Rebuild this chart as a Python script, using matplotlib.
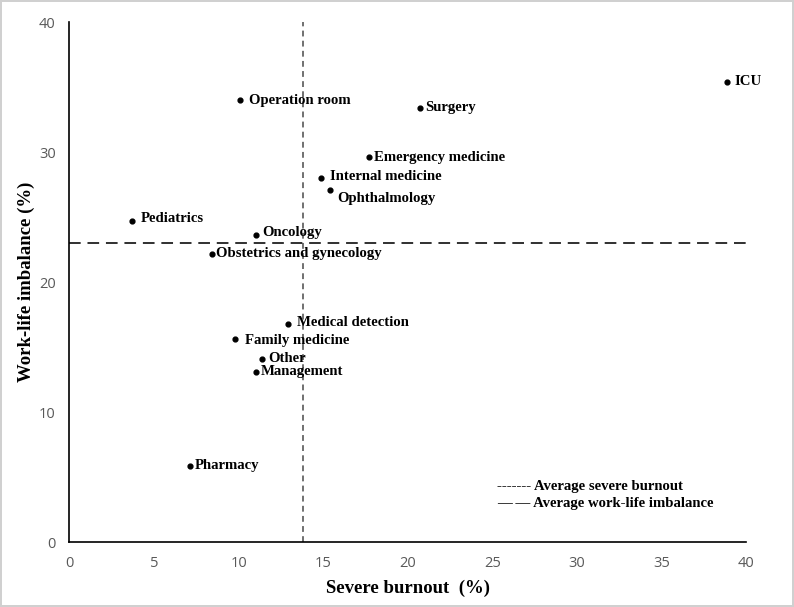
import matplotlib.pyplot as plt

# department, severe burnout (%), work-life imbalance (%)
departments = ["ICU", "Operation room", "Surgery", "Emergency medicine", "Internal medicine",
               "Ophthalmology", "Pediatrics", "Oncology", "Obstetrics and gynecology",
               "Medical detection", "Family medicine", "Other", "Management", "Pharmacy"]
burnout = [38.9, 10.1, 20.7, 17.7, 14.9, 15.4, 3.7, 11.0, 8.4, 12.9, 9.8, 11.4, 11.0, 7.1]
imbalance = [35.4, 34.0, 33.4, 29.6, 28.0, 27.1, 24.7, 23.6, 22.2, 16.8, 15.6, 14.1, 13.1, 5.9]
avg_burnout = 13.8
avg_imbalance = 23.0

# label offsets in points (dx, dy)
offsets = [(5, 0), (6, 0), (4, 0), (4, 0), (6, 1), (5, -6), (6, 2), (5, 2), (3, 0),
           (7, 1), (7, -1), (4, 0), (4, 0), (4, 0)]

serif = "Liberation Serif"
fig = plt.figure(figsize=(7.94, 6.07), dpi=100)
fig.patch.set_edgecolor("#d0d0d0")
fig.patch.set_linewidth(1.5)
ax = fig.add_axes([0.0875, 0.1066, 0.852, 0.857])

ax.plot([avg_burnout, avg_burnout], [0, 40], color="#707070", lw=1.4, dashes=(3, 2.2))
ax.plot([0, 40], [avg_imbalance, avg_imbalance], color="#303030", lw=1.4, dashes=(6, 3.5))

ax.scatter(burnout, imbalance, s=12, color="black", zorder=3)
for name, x, y, (dx, dy) in zip(departments, burnout, imbalance, offsets):
    ax.annotate(name, (x, y), xytext=(dx, dy), textcoords="offset points",
                ha="left", va="center", fontsize=10.6, fontweight="bold", family=serif)

ax.set_xlim(0, 40)
ax.set_ylim(0, 40)
ax.set_xticks(range(0, 41, 5))
ax.set_yticks(range(0, 41, 10))
ax.tick_params(length=0, pad=10, labelsize=10.5, labelcolor="#595959")
for lbl in ax.get_xticklabels() + ax.get_yticklabels():
    lbl.set_family("Open Sans")
for s in ["top", "right"]:
    ax.spines[s].set_visible(False)
for s in ["left", "bottom"]:
    ax.spines[s].set_linewidth(1.2)

ax.set_xlabel("Severe burnout  (%)", fontsize=13.5, fontweight="bold", family=serif, labelpad=6)
ax.set_ylabel("Work-life imbalance (%)", fontsize=13.5, fontweight="bold", family=serif, labelpad=3)

ax.text(0.632, 0.108, "------- Average severe burnout", transform=ax.transAxes,
        fontsize=10.6, fontweight="bold", family=serif, va="center")
ax.text(0.632, 0.0755, "\u2014 \u2014 Average work-life imbalance", transform=ax.transAxes,
        fontsize=10.6, fontweight="bold", family=serif, va="center")

fig.savefig("out.png", dpi=100)
